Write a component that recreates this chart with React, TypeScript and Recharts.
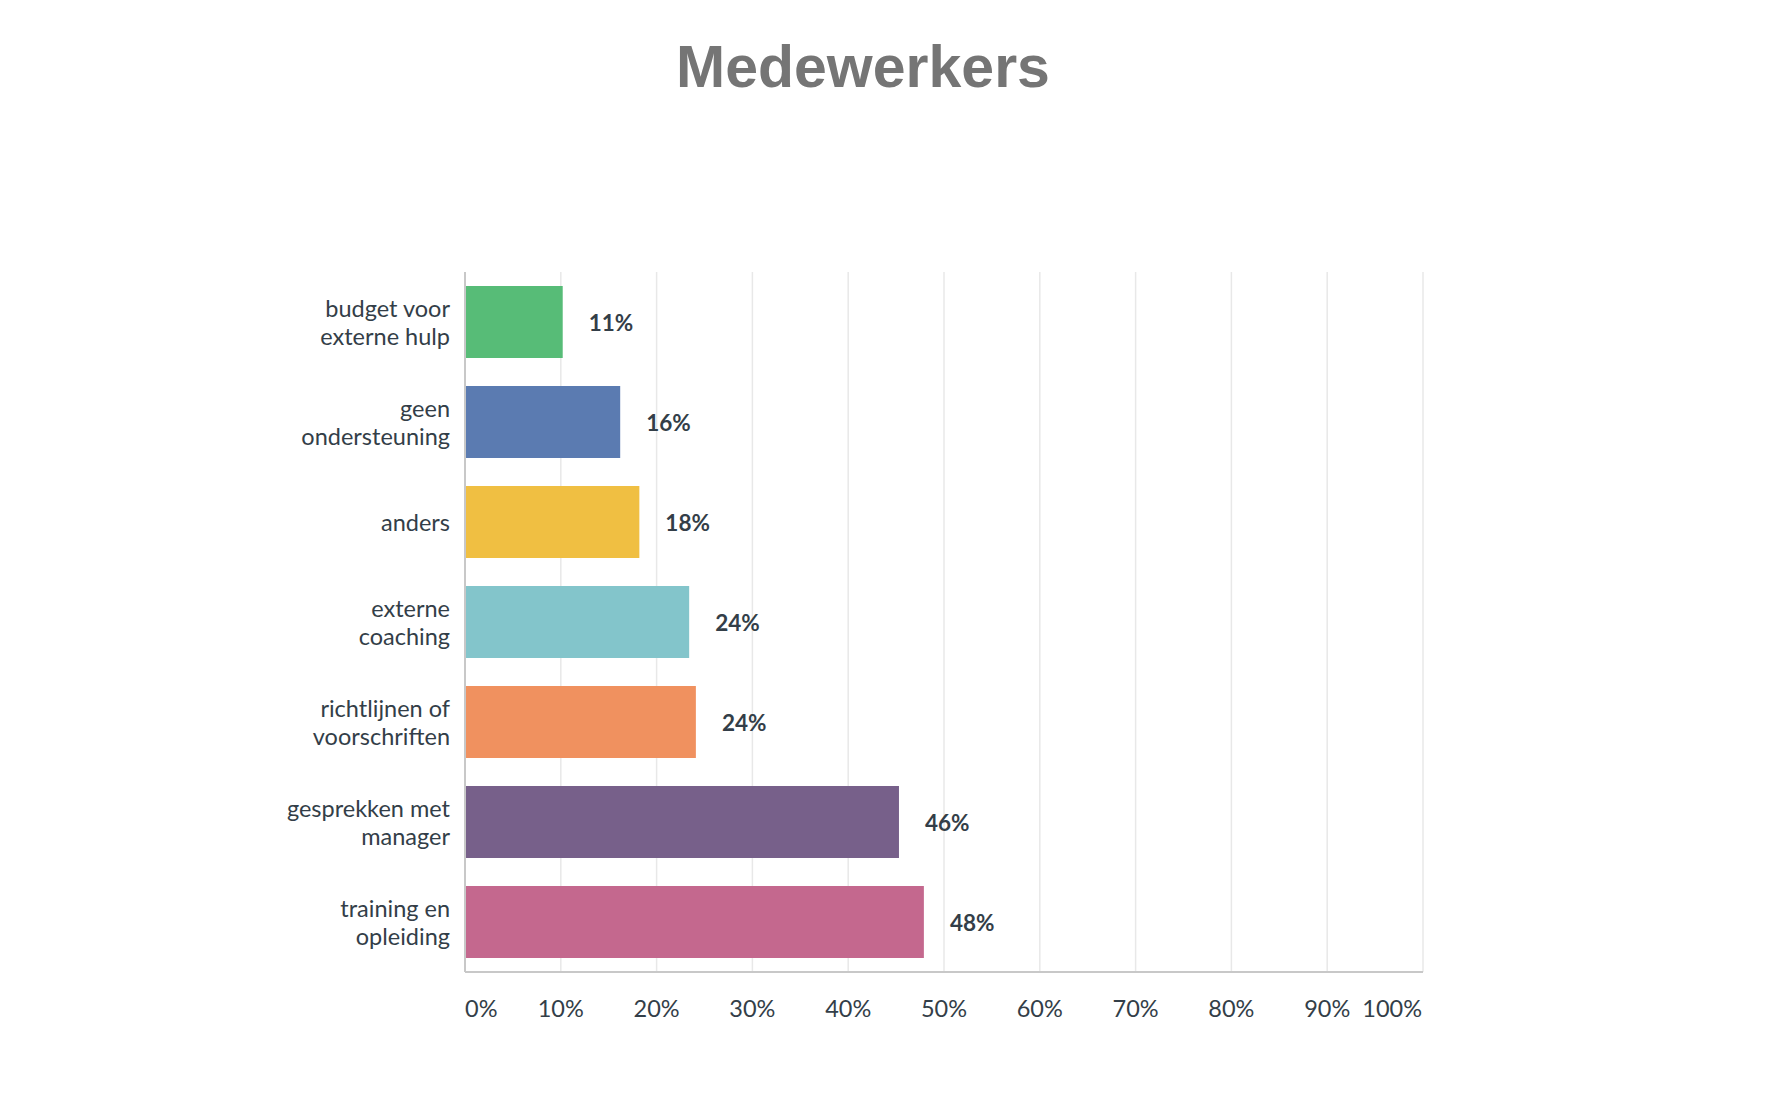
import React from "react"
import { BarChart, Bar, XAxis, YAxis, CartesianGrid, Cell, LabelList } from "recharts"

const categories = [
  "budget voor\nexterne hulp",
  "geen\nondersteuning",
  "anders",
  "externe\ncoaching",
  "richtlijnen of\nvoorschriften",
  "gesprekken met\nmanager",
  "training en\nopleiding",
]
const values = [10.2, 16.2, 18.2, 23.4, 24.1, 45.3, 47.9]
const valueLabels = ["11%", "16%", "18%", "24%", "24%", "46%", "48%"]
const colors = ["#57bc77", "#5b7bb1", "#f0bf42", "#83c5cb", "#f0915f", "#77608a", "#c4688e"]
const xTicks = [0, 10, 20, 30, 40, 50, 60, 70, 80, 90, 100]

const data = categories.map((name, i) => ({ name, value: values[i], label: valueLabels[i] }))

const textColor = "#333e48"
const font = "Lato, sans-serif"

function YTick(props: any) {
  const { x, y, payload } = props
  const lines: string[] = String(payload.value).split("\n")
  const step = 28
  const start = -((lines.length - 1) * step) / 2
  return (
    <g>
      {lines.map((l, i) => (
        <text
          key={i}
          x={x - 7}
          y={y + start + i * step}
          textAnchor="end"
          dominantBaseline="central"
          fill={textColor}
          fontSize={23.5}
          fontFamily={font}
        >
          {l}
        </text>
      ))}
    </g>
  )
}

function XTick(props: any) {
  const { x, y, payload, index } = props
  const anchor = index === 0 ? "start" : index === xTicks.length - 1 ? "end" : "middle"
  const dx = index === 0 ? 0 : index === xTicks.length - 1 ? -1 : 0
  return (
    <text
      x={x + dx}
      y={y + 28}
      textAnchor={anchor}
      dominantBaseline="central"
      fill={textColor}
      fontSize={23.5}
      fontFamily={font}
    >
      {payload.value}%
    </text>
  )
}

function ValueLabel(props: any) {
  const { x, y, width, height, value } = props
  return (
    <text
      x={x + width + 26}
      y={y + height / 2}
      dominantBaseline="central"
      fill={textColor}
      fontSize={22.5}
      fontWeight={700}
      fontFamily={font}
    >
      {value}
    </text>
  )
}

export default function App() {
  return (
    <div style={{ position: "absolute", left: 0, top: 0, width: 1778, height: 1112, background: "#fff" }}>
      <div
        style={{
          position: "absolute",
          left: 0,
          width: 1726,
          top: 33,
          textAlign: "center",
          fontFamily: "'Liberation Sans', Arial, sans-serif",
          fontWeight: 700,
          fontSize: 59,
          color: "#757575",
        }}
      >
        Medewerkers
      </div>
      <BarChart
        width={1778}
        height={1112}
        data={data}
        layout="vertical"
        barCategoryGap="14%"
        margin={{ top: 272, right: 355, bottom: 80, left: 0 }}
      >
        <CartesianGrid horizontal={false} stroke="#e8e8e8" strokeWidth={1.5} />
        <XAxis
          type="number"
          domain={[0, 100]}
          ticks={xTicks}
          tick={<XTick />}
          tickLine={false}
          axisLine={{ stroke: "#c8c8c8", strokeWidth: 2 }}
          height={60}
          interval={0}
        />
        <YAxis
          type="category"
          dataKey="name"
          width={465}
          tick={<YTick />}
          tickLine={false}
          axisLine={{ stroke: "#c8c8c8", strokeWidth: 2 }}
          interval={0}
        />
        <Bar dataKey="value" isAnimationActive={false}>
          {data.map((d, i) => (
            <Cell key={d.name} fill={colors[i]} />
          ))}
          <LabelList dataKey="label" content={<ValueLabel />} />
        </Bar>
      </BarChart>
    </div>
  )
}
